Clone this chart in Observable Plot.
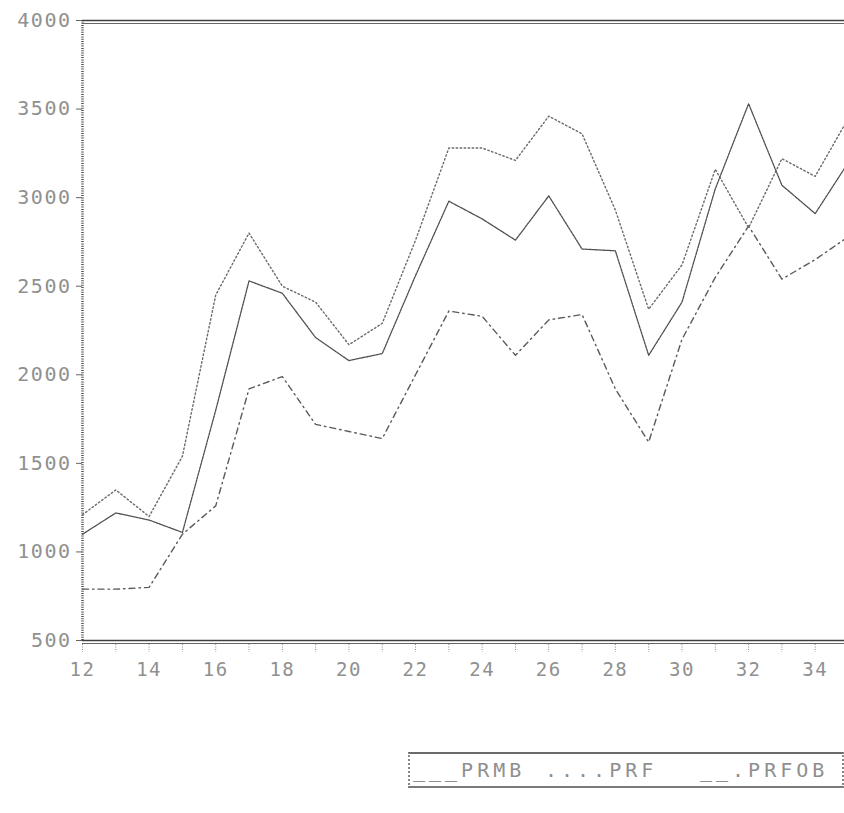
<!DOCTYPE html>
<html>
<head>
<meta charset="utf-8">
<script src="https://cdn.jsdelivr.net/npm/d3@7"></script>
<script src="https://cdn.jsdelivr.net/npm/@observablehq/plot@0.6"></script>
<style>
  html, body { margin: 0; padding: 0; background: #fff; }
  #wrap { position: relative; width: 844px; height: 813px; overflow: hidden; }
  #chart svg text { letter-spacing: 1.5px; }
  #legend {
    position: absolute; top: 752px; left: 408px; width: 432px; height: 32px;
    border-top: 2px solid #6a6a6a; border-bottom: 2px solid #7a7a7a;
    border-left: 2px dotted #888; border-right: 2px dotted #888;
    font-family: "DejaVu Sans Mono", monospace; font-size: 20px; color: #8f8f8f;
  }
  #legend span { position: absolute; top: 4px; white-space: pre; letter-spacing: 4px; }
</style>
</head>
<body>
<div id="wrap">
  <div id="chart"></div>
  <div id="legend"></div>
</div>
<script>
// ---- data ----
const years = [12, 13, 14, 15, 16, 17, 18, 19, 20, 21, 22, 23, 24, 25, 26, 27, 28, 29, 30, 31, 32, 33, 34, 35];
const prmb  = [1100, 1220, 1180, 1110, 1800, 2530, 2460, 2210, 2080, 2120, 2560, 2980, 2880, 2760, 3010, 2710, 2700, 2110, 2410, 3050, 3530, 3070, 2910, 3200];
const prf   = [1210, 1350, 1200, 1540, 2450, 2800, 2500, 2410, 2170, 2290, 2760, 3280, 3280, 3210, 3460, 3360, 2930, 2370, 2620, 3160, 2830, 3220, 3120, 3450];
const prfob = [790, 790, 800, 1100, 1260, 1920, 1990, 1720, 1680, 1640, 2000, 2360, 2330, 2110, 2310, 2340, 1920, 1620, 2200, 2550, 2840, 2540, 2650, 2780];
const yTicks = [500, 1000, 1500, 2000, 2500, 3000, 3500, 4000];
const xTickLabels = [12, 14, 16, 18, 20, 22, 24, 26, 28, 30, 32, 34];
const seriesNames = ["PRMB", "PRF", "PRFOB"];
const legendLabels = ["___PRMB", "....PRF", "__.PRFOB"];

const table = (vals) => years.map((yr, i) => ({year: yr, value: vals[i]}));
const font = "DejaVu Sans Mono";

const chart = Plot.plot({
  width: 844,
  height: 700,
  marginLeft: 82,
  marginRight: 0,
  marginTop: 20,
  marginBottom: 60,
  style: {background: "transparent", fontFamily: font},
  x: {domain: [12, 34.88]},
  y: {domain: [500, 4000]},
  marks: [
    // left axis (dotted, dense ticks)
    Plot.ruleX([12], {y1: 500, y2: 4000, stroke: "#555", strokeWidth: 2.6, strokeDasharray: "1,1.3"}),
    // top double border
    Plot.ruleY([4000], {stroke: "#3f3f3f", strokeWidth: 1.7}),
    Plot.ruleY([4000], {stroke: "#666", strokeWidth: 1.2, dy: 3}),
    // bottom double axis
    Plot.ruleY([500], {stroke: "#3f3f3f", strokeWidth: 1.7}),
    Plot.ruleY([500], {stroke: "#666", strokeWidth: 1.2, dy: 3}),
    // series
    Plot.line(table(prfob), {x: "year", y: "value", stroke: "#5a5a5a", strokeWidth: 1.4, strokeDasharray: "6,4,1.5,4", clip: true}),
    Plot.line(table(prf),   {x: "year", y: "value", stroke: "#6a6a6a", strokeWidth: 1.4, strokeDasharray: "1.5,2.5", clip: true}),
    Plot.line(table(prmb),  {x: "year", y: "value", stroke: "#505050", strokeWidth: 1.3, strokeDasharray: "2.5,1", clip: true}),
    // axes
    Plot.axisY({ticks: yTicks, label: null, tickSize: 6, tickPadding: 5, fontSize: 20, fill: "#909090", stroke: "#666", tickFormat: d => String(d)}),
    Plot.axisX({ticks: years.slice(0, 23), label: null, tickSize: 8, stroke: "#888", strokeDasharray: "1,1.5", tickFormat: () => "", dy: 4}),
    Plot.axisX({ticks: xTickLabels, label: null, tickSize: 0, tickPadding: 22, fontSize: 19, fill: "#909090", tickFormat: d => String(d)})
  ]
});
document.getElementById("chart").appendChild(chart);

// legend (below the SVG)
const legend = document.getElementById("legend");
const lefts = [3, 135, 290];
legendLabels.forEach((t, i) => {
  const s = document.createElement("span");
  s.textContent = t;
  s.title = seriesNames[i];
  s.style.left = lefts[i] + "px";
  legend.appendChild(s);
});
</script>
</body>
</html>
